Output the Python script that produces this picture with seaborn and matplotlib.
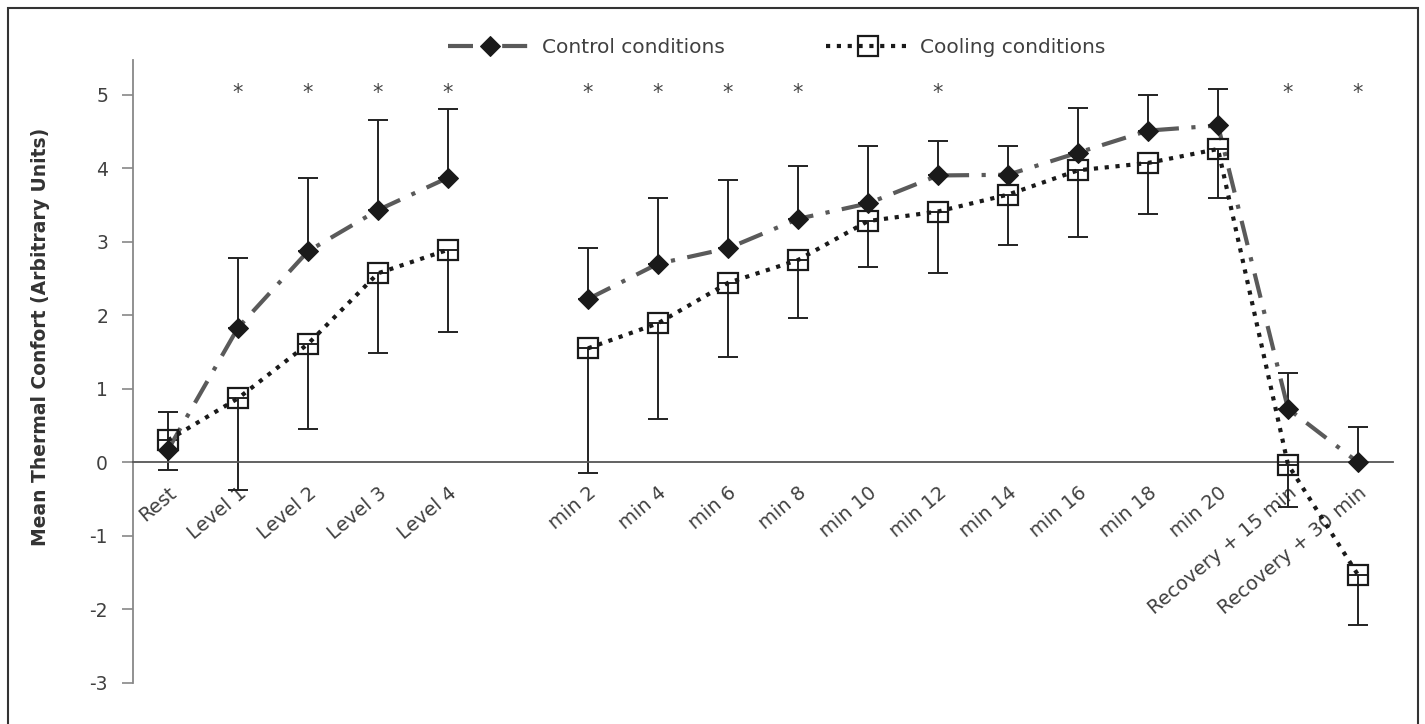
import numpy as np
import pandas as pd
import seaborn as sns
import matplotlib.pyplot as plt
from matplotlib.patches import Rectangle

# x categories (an empty slot separates the warm-up levels from the minutes)
categories = ["Rest", "Level 1", "Level 2", "Level 3", "Level 4",
              "min 2", "min 4", "min 6", "min 8", "min 10", "min 12",
              "min 14", "min 16", "min 18", "min 20",
              "Recovery + 15 min", "Recovery + 30 min"]
phase = ["warm-up"] * 5 + ["exercise"] * 12

control_mean = [0.17, 1.83, 2.87, 3.43, 3.87,
                2.22, 2.70, 2.91, 3.31, 3.52, 3.90, 3.91, 4.21, 4.51, 4.58,
                0.73, 0.00]
control_sd = [0.51, 0.95, 1.00, 1.23, 0.94,
              0.70, 0.89, 0.93, 0.72, 0.78, 0.47, 0.39, 0.61, 0.48, 0.49,
              0.49, 0.48]
cooling_mean = [0.30, 0.87, 1.61, 2.57, 2.89,
                1.55, 1.89, 2.44, 2.75, 3.28, 3.41, 3.64, 3.97, 4.07, 4.26,
                -0.03, -1.53]
cooling_sd = [0.41, 1.24, 1.15, 1.08, 1.12,
              1.70, 1.30, 1.01, 0.79, 0.63, 0.84, 0.69, 0.91, 0.70, 0.66,
              0.58, 0.68]
significant = ["Level 1", "Level 2", "Level 3", "Level 4", "min 2", "min 4",
               "min 6", "min 8", "min 12", "Recovery + 15 min", "Recovery + 30 min"]

pos = [i if i < 5 else i + 1 for i in range(len(categories))]
df = pd.DataFrame({"pos": pos, "phase": phase,
                   "control": control_mean, "cooling": cooling_mean})

sns.set_style("white")
plt.rcParams["font.family"] = ["DejaVu Sans"]
plt.rcParams["axes.unicode_minus"] = False
txt = "#404040"

fig = plt.figure(figsize=(14.25, 7.24), dpi=100)
ax = fig.add_axes([133 / 1425, 41 / 724, 1260 / 1425, 623 / 724])

handles = {}
for ph, sub in df.groupby("phase", sort=False):
    sns.lineplot(data=sub, x="pos", y="control", ax=ax, errorbar=None, legend=False,
                 color="#5a5a5a", lw=3, linestyle=(0, (6, 3, 1, 3)),
                 marker="D", markersize=10.5, mfc="#1a1a1a", mec="#1a1a1a", zorder=3)
    handles["Control conditions"] = ax.lines[-1]
for ph, sub in df.groupby("phase", sort=False):
    sns.lineplot(data=sub, x="pos", y="cooling", ax=ax, errorbar=None, legend=False,
                 color="#1a1a1a", lw=3, linestyle=(0, (1, 1.6)),
                 marker="s", markersize=14, mfc="none", mec="#1a1a1a", mew=1.6, zorder=4)
    handles["Cooling conditions"] = ax.lines[-1]

# one-sided SD bars: up for control, down for cooling
n = len(categories)
ax.errorbar(pos, control_mean, yerr=[np.zeros(n), control_sd], fmt="none",
            ecolor="#222222", elinewidth=1.4, capsize=7, capthick=1.4, zorder=2)
ax.errorbar(pos, cooling_mean, yerr=[cooling_sd, np.zeros(n)], fmt="none",
            ecolor="#222222", elinewidth=1.4, capsize=7, capthick=1.4, zorder=2)

for cat in significant:
    ax.text(pos[categories.index(cat)], 5.02, "*", ha="center", va="center",
            fontsize=15, color="#444444")

ax.set_xlim(-0.5, 17.5)
ax.set_ylim(-3, 5.47)
ax.set_yticks(range(-3, 6))
ax.spines["top"].set_visible(False)
ax.spines["right"].set_visible(False)
ax.spines["bottom"].set_position(("data", 0))
ax.spines["bottom"].set_color("#555555")
ax.spines["left"].set_color("#888888")
ax.spines["bottom"].set_linewidth(1.3)
ax.spines["left"].set_linewidth(1.3)

ax.set_xticks(pos)
ax.set_xticklabels(categories, rotation=40, ha="right", rotation_mode="anchor")
ax.set_xticks(np.arange(-0.5, 18, 1), minor=True)
ax.tick_params(axis="x", which="major", length=0, pad=15, labelsize=14, labelcolor=txt)
ax.tick_params(axis="x", which="minor", length=8, width=1.2, color="#555555", direction="out")
ax.tick_params(axis="y", length=8, width=1.2, color="#888888", direction="out",
               labelsize=13.5, labelcolor=txt, pad=10, left=True)

ax.set_xlabel("")
ax.set_ylabel("Mean Thermal Confort (Arbitrary Units)", fontsize=13.5,
              fontweight="bold", color="#333333")
ax.yaxis.set_label_coords(-0.066, 0.555)

fig.legend(list(handles.values()), list(handles.keys()), loc="center",
           bbox_to_anchor=(0.545, 0.935), ncol=2, frameon=False, fontsize=14.5,
           handlelength=4.2, handletextpad=0.5, columnspacing=5, labelcolor=txt)

fig.add_artist(Rectangle((8 / 1425, -0.05), 1410 / 1425, 716 / 724 + 0.05,
                         transform=fig.transFigure, fill=False, ec="#333333", lw=1.5))

fig.savefig("out.png", dpi=100)
